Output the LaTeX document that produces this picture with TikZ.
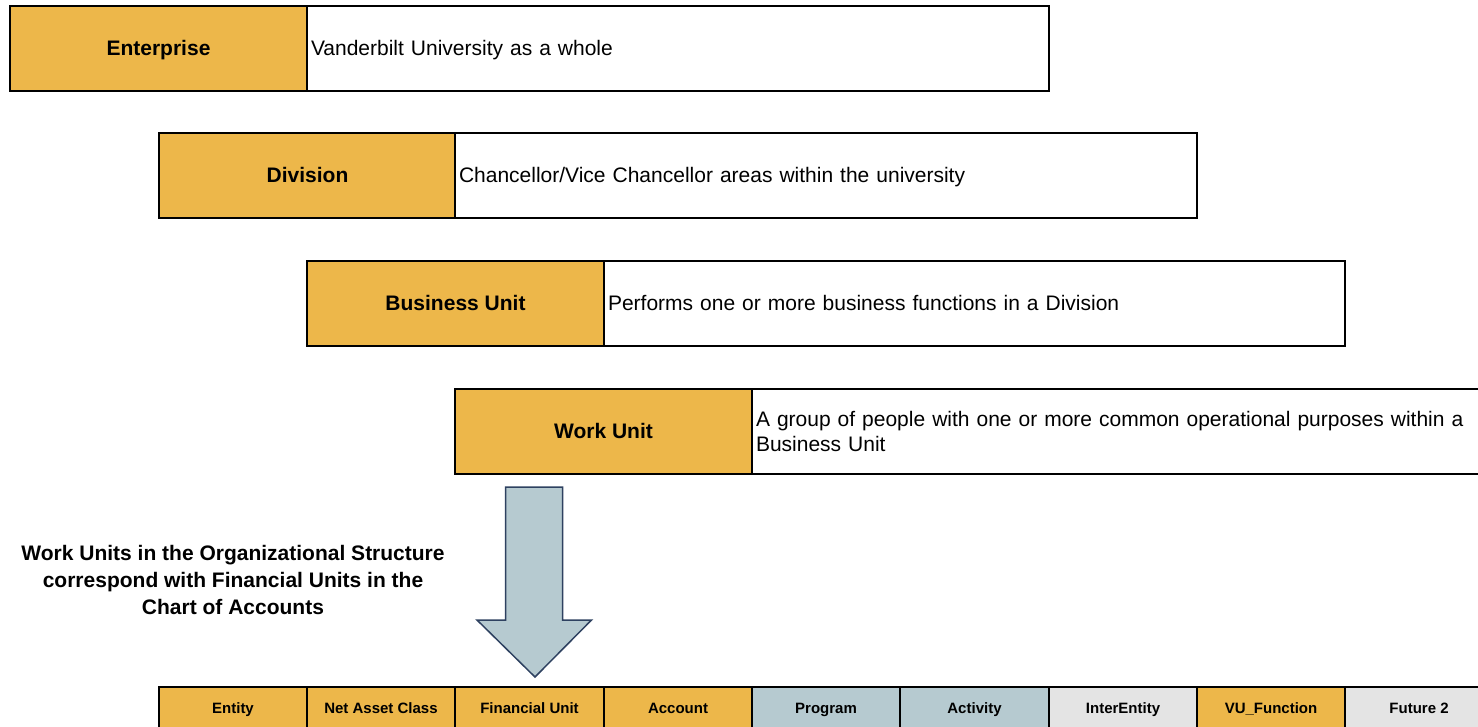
\documentclass[tikz,border=0pt]{standalone}
\usepackage{fontspec}
\setmainfont{Liberation Sans}
\definecolor{gold}{HTML}{EDB74A}
\definecolor{steel}{HTML}{B6CAD0}
\definecolor{lgrey}{HTML}{E4E4E4}
\definecolor{navy}{HTML}{2E4160}
\begin{document}
\begin{tikzpicture}[x=1pt,y=-1pt,
  lab/.style={draw, line width=2pt, outer sep=0pt, fill=gold, anchor=north west, minimum width=297pt, minimum height=85pt, inner sep=0pt, text height=18pt, text depth=4pt, font=\fontsize{21}{25}\selectfont\bfseries},
  desc/.style={draw, line width=2pt, outer sep=0pt, fill=white, anchor=north west, minimum height=85pt, inner xsep=4pt, inner ysep=0pt, text height=18pt, text depth=4pt, align=left, font=\fontsize{21}{26}\selectfont},
  desctwo/.style={draw, line width=2pt, outer sep=0pt, fill=white, anchor=north west, minimum height=85pt, inner xsep=4pt, inner ysep=0pt, align=left, font=\fontsize{21}{25.5}\selectfont},
  cell/.style={draw, line width=2pt, outer sep=0pt, anchor=north west, minimum width=148pt, minimum height=42pt, inner sep=0pt, text height=13pt, text depth=3pt, font=\fontsize{15}{18}\selectfont\bfseries},
  note/.style={align=center, font=\fontsize{21}{27}\selectfont\bfseries}]
\useasboundingbox (0,0) rectangle (1478,726);
\clip (0,0) rectangle (1478,726);
\fill[white] (0,0) rectangle (1478,726);
% hierarchy rows
\node[lab] (ent) at (10,6) {Enterprise};
\node[desc, minimum width=742pt, text width=734pt] (entd) at (307,6) {Vanderbilt University as a whole};
\node[lab] (div) at (159,133) {Division};
\node[desc, minimum width=742pt, text width=734pt] (divd) at (455,133) {Chancellor/Vice Chancellor areas within the university};
\node[lab] (bu) at (307,261) {Business Unit};
\node[desc, minimum width=741pt, text width=733pt] (bud) at (604,261) {Performs one or more business functions in a Division};
\node[lab] (wu) at (455,389) {Work Unit};
\node[desctwo, minimum width=760pt, text width=752pt] (wud) at (752,389) {A group of people with one or more common operational purposes within a\\Business Unit};
% block arrow
\draw[navy, line width=1.5pt, fill=steel, line join=miter]
  (505.5,487) -- (562.5,487) -- (562.5,620) -- (591.5,620) -- (535,677) -- (477,620) -- (505.5,620) -- cycle;
% note
\node[note] (nt) at (233,580) {Work Units in the Organizational Structure\\correspond with Financial Units in the\\Chart of Accounts};
% chart of accounts row
\node[cell, fill=gold] (c1) at (159,687) {Entity};
\node[cell, fill=gold] (c2) at (307,687) {Net Asset Class};
\node[cell, fill=gold, minimum width=149pt] (c3) at (455,687) {Financial Unit};
\node[cell, fill=gold] (c4) at (604,687) {Account};
\node[cell, fill=steel] (c5) at (752,687) {Program};
\node[cell, fill=steel, minimum width=149pt] (c6) at (900,687) {Activity};
\node[cell, fill=lgrey] (c7) at (1049,687) {InterEntity};
\node[cell, fill=gold] (c8) at (1197,687) {VU\_Function};
\node[cell, fill=lgrey] (c9) at (1345,687) {Future 2};
\end{tikzpicture}
\end{document}
